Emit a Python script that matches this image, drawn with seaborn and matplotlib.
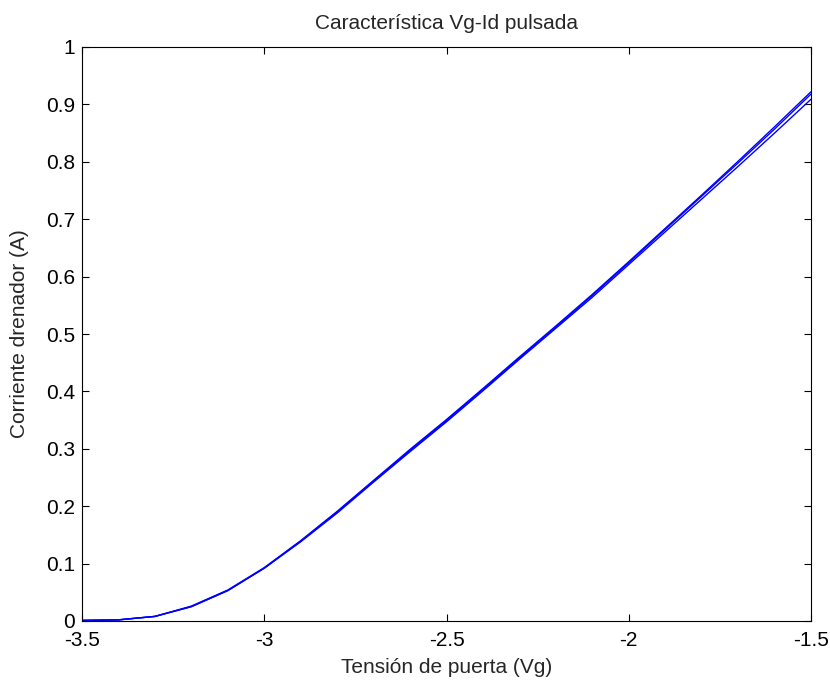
import matplotlib
matplotlib.use("Agg")
import matplotlib.pyplot as plt
import seaborn as sns
import pandas as pd
from matplotlib.ticker import FuncFormatter

# Gate voltage sweep (V)
vg = [-3.5, -3.4, -3.3, -3.2, -3.1, -3.0, -2.9, -2.8, -2.7, -2.6, -2.5,
      -2.4, -2.3, -2.2, -2.1, -2.0, -1.9, -1.8, -1.7, -1.6, -1.5]

# Drain current (A) for three pulsed measurements
id_run1 = [0.001, 0.002, 0.008, 0.026, 0.054, 0.093, 0.140, 0.191, 0.245, 0.299, 0.351,
           0.405, 0.460, 0.514, 0.569, 0.626, 0.684, 0.742, 0.801, 0.861, 0.922]
id_run2 = [0.001, 0.002, 0.008, 0.025, 0.053, 0.092, 0.139, 0.190, 0.244, 0.297, 0.349,
           0.403, 0.458, 0.512, 0.567, 0.624, 0.682, 0.740, 0.798, 0.857, 0.918]
id_run3 = [0.001, 0.002, 0.008, 0.025, 0.053, 0.092, 0.138, 0.188, 0.242, 0.295, 0.347,
           0.401, 0.456, 0.510, 0.564, 0.621, 0.678, 0.735, 0.792, 0.850, 0.909]

x_ticks = [-3.5, -3.0, -2.5, -2.0, -1.5]
y_ticks = [0, 0.1, 0.2, 0.3, 0.4, 0.5, 0.6, 0.7, 0.8, 0.9, 1.0]

df = pd.DataFrame({
    "vg": vg * 3,
    "id": id_run1 + id_run2 + id_run3,
    "run": [1] * len(vg) + [2] * len(vg) + [3] * len(vg),
})

sns.set_theme(style="white")
plt.rcParams["font.family"] = ["Liberation Sans", "DejaVu Sans"]
plt.rcParams["xtick.direction"] = "in"
plt.rcParams["ytick.direction"] = "in"

W, H = 830, 684
fig = plt.figure(figsize=(W / 100, H / 100), dpi=100)
left, right, top, bottom = 82, 811, 47, 621
ax = fig.add_axes([left / W, 1 - bottom / H, (right - left) / W, (bottom - top) / H])

sns.lineplot(data=df, x="vg", y="id", units="run", estimator=None,
             color="#0000ff", linewidth=1.0, ax=ax, legend=False)

ax.set_xlim(-3.5, -1.5)
ax.set_ylim(0, 1)
ax.set_xticks(x_ticks)
ax.set_yticks(y_ticks)
fmt = FuncFormatter(lambda v, p: "%g" % round(v, 2))
ax.xaxis.set_major_formatter(fmt)
ax.yaxis.set_major_formatter(fmt)

ax.tick_params(axis="both", which="both", direction="in", length=5, width=0.8,
               top=True, right=True, bottom=True, left=True,
               labelsize=15, colors="black")
ax.tick_params(axis="x", pad=7)
ax.tick_params(axis="y", pad=5)
for s in ax.spines.values():
    s.set_color("black")
    s.set_linewidth(0.8)

ax.set_title("Característica Vg-Id pulsada", fontsize=15, pad=13)
ax.set_xlabel("Tensión de puerta (Vg)", fontsize=15, labelpad=6)
ax.set_ylabel("Corriente drenador (A)", fontsize=15, labelpad=12)

fig.savefig("out.png", dpi=100, facecolor="white")
